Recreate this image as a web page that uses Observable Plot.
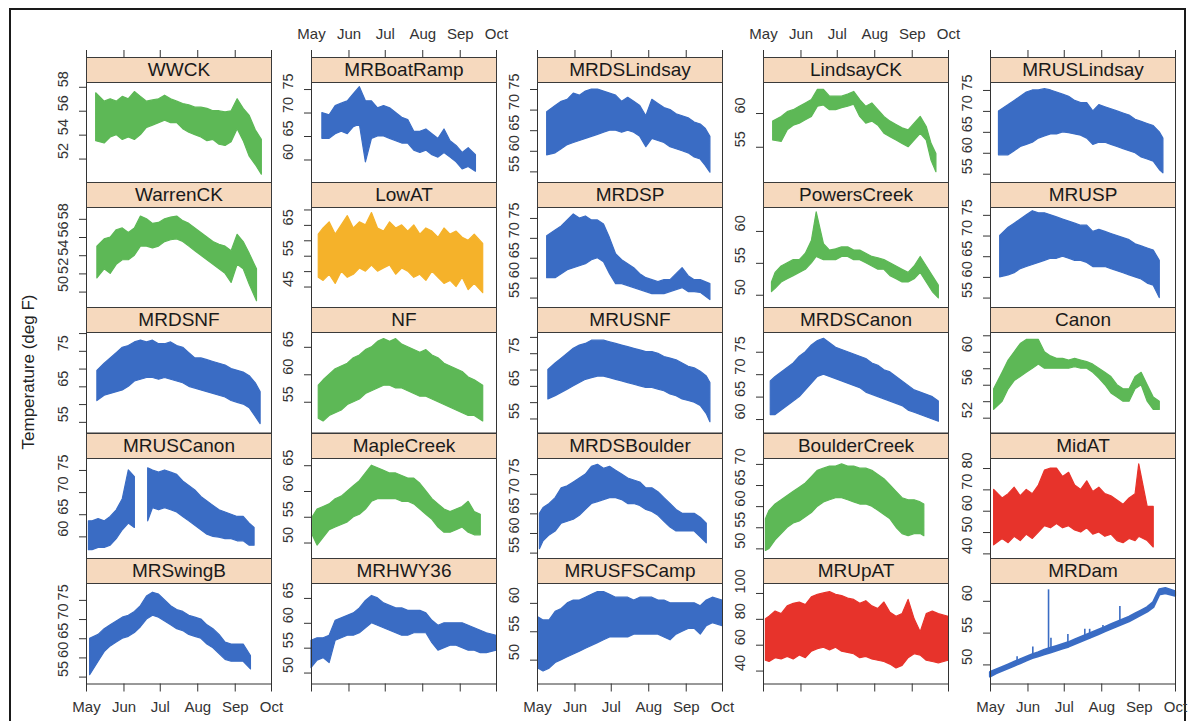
<!DOCTYPE html>
<html><head><meta charset="utf-8">
<script src="https://cdn.jsdelivr.net/npm/d3@7"></script>
<script src="https://cdn.jsdelivr.net/npm/@observablehq/plot@0.6"></script>
<style>
body{margin:0;background:#fff;font-family:"Liberation Sans",Arial,sans-serif;}
#fig{position:relative;width:1193px;height:721px;overflow:hidden;background:#fff;}
.strip{position:absolute;box-sizing:border-box;background:#f6d9be;border:1px solid #3a3a3a;text-align:center;font-size:19px;line-height:23px;color:#1a1a1a;white-space:nowrap;}
.cell{position:absolute;}
#border{position:absolute;left:9px;top:8px;width:1177px;height:740px;border:2px solid #1a1a1a;box-sizing:border-box;}
#ytitle{position:absolute;left:29px;top:372px;transform:translate(-50%,-50%) rotate(-90deg);font-size:17px;color:#222;white-space:nowrap;}
</style></head>
<body><div id="fig"><div id="border"></div><div id="ytitle">Temperature (deg F)</div></div>
<script>
// ---------- categories / styling data ----------
const sites = ["WWCK","MRBoatRamp","MRDSLindsay","LindsayCK","MRUSLindsay",
  "WarrenCK","LowAT","MRDSP","PowersCreek","MRUSP",
  "MRDSNF","NF","MRUSNF","MRDSCanon","Canon",
  "MRUSCanon","MapleCreek","MRDSBoulder","BoulderCreek","MidAT",
  "MRSwingB","MRHWY36","MRUSFSCamp","MRUpAT","MRDam"];
const G = "#5db856", B = "#3a6cc4", O = "#f5b22a", R = "#e7332b";
const siteColors = [G,B,B,G,B, G,O,B,G,B, B,G,B,B,G, B,G,B,G,R, B,B,B,R,B];
const yDomains = [[50,58.4],[55.1,76.5],[52.3,76.7],[49.7,64.6],[52.9,76.9],
  [48.25,59.3],[38.2,70.8],[52.5,77.75],[48,63.75],[52.6,76.9],
  [52,80.3],[49.4,67.7],[50.7,81.5],[57,79.4],[50.2,62.4],
  [55,77.7],[46.9,66.4],[53.5,79.1],[47.6,71.4],[37.6,84.7],
  [53.2,79.4],[47.8,68],[45.8,63.5],[30,107.7],[47,62.8]];
const yTickValues = [[52,54,56,58],[60,65,70,75],[55,60,65,70,75],[55,60],[55,60,65,70,75],
  [50,52,54,56,58],[45,50,55,60,65,70],[55,60,65,70,75],[50,55,60],[55,60,65,70,75],
  [55,60,65,70,75,80],[55,60,65],[55,60,65,70,75,80],[60,65,70,75],[52,54,56,58,60,62],
  [60,65,70,75],[50,55,60,65],[55,60,65,70,75],[50,55,60,65,70],[40,50,60,70,80],
  [55,60,65,70,75],[50,55,60,65],[50,55,60],[40,60,80,100],[50,55,60]];
const yTickLabels = [[52,54,56,58],[60,65,70,75],[55,60,65,70,75],[55,60],[55,60,65,70,75],
  [50,52,54,56,58],[45,55,65],[55,60,65,70,75],[50,55,60],[55,60,65,70,75],
  [55,65,75],[55,60,65],[55,65,75],[60,65,70,75],[52,56,60],
  [60,65,70,75],[50,55,60,65],[55,60,65,70,75],[50,55,60,65,70],[40,50,60,70,80],
  [55,60,65,70,75],[50,55,60,65],[50,55,60],[40,60,80,100],[50,55,60]];
const monthTicks = ["2012-05-01","2012-06-01","2012-07-01","2012-08-01","2012-09-01","2012-10-01"];
const monthLabels = ["May","Jun","Jul","Aug","Sep","Oct"];
const xDomain = ["2012-05-01","2012-10-01"];

// ---------- series: [day since May 1, daily low, daily high] ----------
const WWCK = [[8,53.5,57.5],[15,53.3,56.8],[20,53.8,57.0],[25,54.0,56.8],[30,53.6,57.2],[35,53.8,57.0],[40,53.6,57.6],[45,54.0,57.2],[50,54.6,56.8],[55,54.8,56.9],[60,55.0,57.0],[65,55.2,57.3],[70,55.0,57.0],[75,55.0,56.8],[80,54.5,56.6],[85,54.2,56.5],[90,54.0,56.3],[95,53.8,56.3],[100,53.5,56.2],[105,53.6,56.0],[110,53.2,56.0],[115,53.1,55.9],[120,53.4,56.0],[125,54.5,57.0],[130,53.5,56.2],[135,52.2,55.6],[140,51.5,54.4],[145,50.7,53.6]];
const MRBoatRamp = [[9,64.5,70.0],[15,64.5,69.5],[20,65.5,71.5],[25,66.0,72.0],[30,65.5,72.5],[35,67.0,74.0],[40,67.5,75.5],[45,59.5,72.5],[50,64.5,72.5],[55,65.0,71.0],[60,65.0,71.5],[65,64.5,71.0],[70,64.0,70.0],[75,63.5,69.0],[80,63.5,68.5],[85,62.0,66.0],[90,61.5,66.0],[95,62.0,66.5],[100,61.0,65.5],[105,60.5,64.5],[110,61.5,66.5],[115,60.5,64.0],[120,59.5,63.0],[125,58.0,61.5],[130,58.5,62.5],[136,57.5,61.0]];
const MRDSLindsay = [[8,59.0,69.5],[15,59.5,71.0],[20,60.5,72.0],[25,61.5,72.5],[30,62.0,74.0],[35,62.5,73.5],[40,63.0,74.5],[45,63.5,75.0],[50,64.0,75.0],[55,64.5,74.5],[60,65.0,74.0],[65,65.0,73.5],[70,64.5,72.0],[75,65.0,73.0],[80,64.5,72.0],[85,63.5,71.0],[90,61.0,68.5],[95,63.0,72.5],[100,62.5,71.5],[105,62.0,70.5],[110,61.0,70.0],[115,60.5,69.0],[120,60.0,68.5],[125,59.5,68.0],[130,58.5,67.0],[135,58.0,66.5],[139,56.5,65.5],[143,54.8,63.5]];
const LindsayCK = [[8,56.0,58.8],[15,55.8,59.5],[20,57.5,60.2],[25,58.2,60.5],[30,58.5,61.0],[35,59.0,61.5],[40,59.5,62.0],[45,61.0,63.5],[50,61.2,63.5],[55,60.5,62.5],[60,60.5,62.5],[65,60.8,62.5],[70,61.0,62.8],[75,61.3,63.2],[80,59.5,62.0],[85,58.5,61.0],[90,58.8,61.5],[95,58.2,60.5],[100,57.0,59.5],[105,56.5,58.8],[110,56.0,58.3],[115,55.5,57.8],[120,55.0,57.5],[125,56.0,58.5],[130,57.0,59.5],[135,56.0,58.0],[139,53.0,55.5],[143,51.3,54.0]];
const MRUSLindsay = [[7,59.5,70.0],[15,59.5,71.5],[20,60.5,72.5],[25,61.5,73.5],[30,62.0,74.5],[35,62.5,75.0],[40,63.5,75.0],[45,64.0,75.3],[50,64.5,75.0],[55,64.5,74.5],[60,65.0,74.0],[65,64.8,73.5],[70,64.5,72.5],[75,64.2,72.0],[80,63.5,72.0],[85,62.0,70.0],[90,62.5,71.5],[95,62.5,71.0],[100,62.0,70.5],[105,61.5,70.0],[110,61.0,69.5],[115,60.5,69.0],[120,60.0,68.0],[125,59.0,67.5],[130,58.5,67.0],[135,58.0,66.5],[140,56.0,65.0],[143,55.2,63.5]];
const WarrenCK = [[9,51.5,55.0],[15,52.5,55.8],[20,52.0,56.0],[25,53.0,56.8],[30,53.5,57.0],[35,53.5,56.5],[40,54.0,57.0],[45,55.0,58.3],[50,55.0,58.0],[55,54.8,57.5],[60,55.0,57.6],[65,55.5,58.0],[70,55.7,58.2],[75,55.8,58.3],[80,55.5,57.8],[85,55.0,57.5],[90,54.5,57.0],[95,54.0,56.5],[100,53.5,56.0],[105,53.0,55.5],[110,52.5,55.2],[115,52.0,55.0],[120,51.0,54.5],[125,53.0,56.3],[130,52.5,55.5],[135,50.8,54.2],[141,49.0,52.5]];
const LowAT = [[6,48,62],[10,47,64],[15,49,66],[20,46,62],[25,50,65],[30,48,68],[35,49,64],[40,51,66],[45,50,65],[50,52,69],[55,50,64],[60,51,63],[65,52,66],[70,49,64],[75,51,65],[80,50,63],[85,48,65],[90,49,62],[95,47,64],[100,50,63],[105,48,61],[110,46,64],[115,47,62],[120,45,63],[125,48,61],[130,44,60],[135,46,62],[142,43,59]];
const MRDSP = [[8,60.0,70.5],[15,60.0,72.0],[20,61.0,73.0],[25,62.0,74.5],[30,62.5,76.0],[35,63.0,75.0],[40,63.5,75.5],[45,64.5,74.5],[50,65.0,74.5],[55,64.0,73.5],[60,61.0,70.0],[65,58.5,66.0],[70,58.5,64.5],[75,58.0,63.5],[80,57.5,62.5],[85,57.0,61.0],[90,56.5,60.0],[95,56.0,59.5],[100,56.0,59.0],[105,56.0,59.5],[110,56.5,59.5],[115,57.0,61.0],[120,57.5,62.5],[125,56.5,60.5],[130,56.5,59.5],[135,56.3,59.5],[143,54.5,58.5]];
const PowersCreek = [[7,50.5,52.0],[10,51.0,53.5],[15,52.0,54.5],[20,52.5,55.0],[25,53.0,55.5],[30,53.5,55.5],[35,54.0,56.5],[40,55.0,58.5],[44,56.0,63.0],[50,55.5,58.0],[55,55.5,57.0],[60,55.5,57.2],[65,56.0,57.5],[70,56.0,57.5],[75,55.5,57.0],[80,55.5,57.0],[85,55.0,56.5],[90,54.5,56.0],[95,54.0,55.8],[100,54.0,55.5],[105,53.0,55.0],[110,52.5,54.5],[115,52.0,54.0],[120,52.0,53.5],[125,52.5,54.5],[130,53.5,56.0],[135,52.0,54.5],[140,50.5,53.0],[145,49.5,51.5]];
const MRUSP = [[8,60.0,70.0],[15,60.5,72.0],[20,61.0,73.0],[25,62.0,74.0],[30,62.5,75.0],[35,63.0,76.0],[40,63.5,75.5],[45,64.0,75.5],[50,64.5,75.0],[55,64.5,74.5],[60,65.0,74.0],[65,64.5,73.5],[70,64.0,73.0],[75,64.0,72.5],[80,63.5,72.5],[85,62.5,71.0],[90,62.5,71.5],[95,62.5,71.0],[100,62.0,70.5],[105,61.5,70.0],[110,61.0,69.5],[115,60.5,69.0],[120,60.0,68.0],[125,59.5,67.5],[130,58.5,67.0],[135,58.0,66.5],[140,55.0,64.0]];
const MRDSNF = [[9,61.0,69.5],[15,62.5,71.5],[20,63.0,73.0],[25,63.5,74.5],[30,64.0,76.0],[35,65.0,76.5],[40,66.5,77.5],[45,67.0,78.0],[50,67.5,77.5],[55,67.5,78.0],[60,67.0,77.0],[65,67.5,77.0],[70,67.0,77.5],[75,66.5,76.5],[80,66.0,76.0],[85,65.0,74.5],[90,64.5,73.0],[95,64.0,73.0],[100,63.5,72.5],[105,63.0,72.0],[110,62.5,71.5],[115,62.0,71.0],[120,61.0,70.0],[125,60.5,69.5],[130,60.0,69.0],[135,59.0,68.0],[140,56.5,66.0],[144,54.5,63.5]];
const NF = [[6,52.0,58.0],[10,51.5,59.0],[15,52.5,60.0],[20,53.0,61.0],[25,53.5,61.5],[30,54.5,62.0],[35,55.0,63.0],[40,55.5,63.5],[45,56.5,64.5],[50,57.0,65.0],[55,57.5,66.0],[60,58.0,66.5],[65,58.0,66.0],[70,57.5,66.5],[75,57.5,65.5],[80,57.0,65.0],[85,56.5,64.5],[90,56.0,64.0],[95,56.0,64.5],[100,55.5,63.5],[105,55.0,63.0],[110,54.5,62.0],[115,54.0,61.5],[120,53.5,61.0],[125,53.0,60.5],[130,52.5,59.5],[135,52.5,59.0],[142,51.5,58.0]];
const MRUSNF = [[9,61.0,70.0],[15,62.0,72.0],[20,63.0,73.5],[25,64.0,75.0],[30,65.0,76.5],[35,66.0,77.5],[40,67.0,78.0],[45,67.5,79.0],[50,68.0,79.0],[55,68.0,79.0],[60,67.5,78.5],[65,67.0,78.0],[70,66.5,77.5],[75,66.0,77.0],[80,65.5,76.5],[85,65.0,76.0],[90,64.5,75.5],[95,64.5,75.5],[100,64.0,75.0],[105,63.5,74.0],[110,62.5,73.5],[115,62.0,73.0],[120,61.0,72.0],[125,60.5,71.0],[130,60.0,70.5],[135,59.0,69.5],[140,56.5,68.0],[143,54.0,66.0]];
const MRDSCanon = [[6,61.0,68.5],[10,61.0,69.5],[15,62.0,70.5],[20,63.0,71.5],[25,64.0,72.5],[30,65.0,74.0],[35,66.5,75.0],[40,68.0,76.5],[45,69.5,77.5],[50,70.0,78.0],[55,69.5,77.0],[60,69.0,76.0],[65,68.5,75.5],[70,68.0,75.0],[75,67.5,74.5],[80,67.0,74.0],[85,66.0,73.5],[90,65.5,72.5],[95,65.0,72.0],[100,64.5,71.0],[105,64.0,70.5],[110,63.5,69.5],[115,63.0,68.5],[120,62.0,67.5],[125,61.5,66.5],[130,61.0,66.0],[135,60.5,65.5],[140,60.0,65.0],[145,59.5,64.0]];
const Canon = [[3,53.0,55.5],[10,54.0,57.5],[15,55.5,59.0],[20,56.5,60.0],[25,57.0,61.0],[30,57.5,61.5],[35,58.0,61.5],[40,58.5,61.5],[45,58.0,60.0],[50,58.0,59.5],[55,58.0,59.2],[60,58.0,59.2],[65,58.0,59.0],[70,58.2,59.2],[75,58.0,59.0],[80,58.0,58.8],[85,57.5,58.5],[90,56.8,58.0],[95,56.0,57.5],[100,55.0,57.0],[105,54.5,56.0],[110,54.0,55.5],[115,54.0,55.5],[120,55.5,57.0],[125,56.0,57.5],[130,54.0,56.0],[135,53.0,54.5],[140,53.0,54.0]];
const MRUSCanon = [[2,57.0,63.5],[5,57.0,63.5],[10,57.5,64.0],[15,57.5,63.5],[20,58.0,64.5],[25,59.5,66.0],[30,61.5,68.5],[35,63.0,75.0],[40,62.0,73.5],[45,null,null],[51,63.5,75.5],[55,66.5,75.0],[60,66.0,74.5],[65,66.5,75.0],[70,66.0,74.5],[75,65.5,74.0],[80,64.5,72.5],[85,63.5,71.5],[90,62.5,70.5],[95,61.5,69.0],[100,60.5,68.0],[105,60.0,67.0],[110,59.8,66.0],[115,59.5,65.5],[120,59.5,65.0],[125,59.0,64.5],[130,59.0,64.5],[135,58.0,63.0],[139,58.0,62.0]];
const MapleCreek = [[1,51.5,55.0],[5,49.5,56.5],[10,51.0,57.0],[15,52.5,57.5],[20,53.0,58.5],[25,53.5,59.0],[30,54.0,60.0],[35,55.0,61.0],[40,55.5,62.0],[45,56.5,63.5],[50,58.0,65.0],[55,58.5,64.5],[60,58.5,64.0],[65,58.5,63.5],[70,58.5,63.5],[75,58.0,63.0],[80,58.0,62.5],[85,57.5,62.5],[90,56.5,61.5],[95,55.5,60.0],[100,54.5,58.5],[105,53.0,57.5],[110,52.0,56.5],[115,52.0,56.0],[120,52.5,56.5],[125,53.0,57.0],[130,52.0,58.0],[135,51.5,56.0],[140,51.5,55.5]];
const MRDSBoulder = [[2,56.0,65.0],[5,58.0,66.5],[10,59.5,67.5],[15,60.5,69.0],[20,62.5,71.5],[25,63.0,72.0],[30,63.5,73.0],[35,64.5,74.0],[40,66.0,75.0],[45,67.5,77.0],[50,68.0,77.5],[55,68.5,76.5],[60,69.0,77.0],[65,69.0,76.0],[70,68.5,75.0],[75,67.5,74.0],[80,67.5,73.5],[85,67.0,73.0],[90,66.0,71.5],[95,65.5,71.5],[100,64.5,70.5],[105,63.0,69.0],[110,61.5,67.5],[115,60.5,66.0],[120,60.5,65.0],[125,60.5,65.0],[130,60.5,65.0],[135,59.0,64.0],[140,57.5,62.5]];
const BoulderCreek = [[2,49.5,57.0],[5,50.0,59.0],[10,52.0,60.5],[15,53.5,61.5],[20,55.0,62.5],[25,56.0,63.5],[30,56.5,64.5],[35,57.5,65.5],[40,58.5,67.0],[45,60.0,68.5],[50,61.0,69.0],[55,61.5,69.5],[60,62.0,69.5],[65,62.0,70.0],[70,61.5,69.5],[75,61.0,69.5],[80,60.5,69.0],[85,60.5,69.0],[90,60.0,68.5],[95,59.0,67.5],[100,58.0,66.5],[105,57.0,65.0],[110,55.0,63.5],[115,53.5,62.0],[120,53.0,61.5],[125,53.5,61.5],[130,53.5,61.0],[133,53.0,60.5]];
const MidAT = [[3,44,70],[10,47,66],[15,45,68],[20,48,71],[25,46,67],[30,49,70],[35,47,68],[40,50,72],[45,53,79],[50,52,80],[55,54,80],[60,52,76],[65,53,78],[70,51,72],[75,50,70],[80,52,74],[85,49,69],[90,50,71],[95,48,68],[100,49,67],[105,46,65],[110,45,63],[115,47,66],[120,46,68],[123,48,82],[130,46,62],[135,43,62]];
const MRSwingB = [[3,55.5,65.0],[10,59.0,66.0],[15,61.5,67.5],[20,63.0,68.5],[25,64.0,69.5],[30,65.0,70.5],[35,65.5,71.0],[40,66.5,72.0],[45,68.0,73.5],[50,70.0,76.0],[55,71.0,77.0],[60,70.5,76.5],[65,69.5,75.0],[70,68.5,73.5],[75,67.5,72.5],[80,67.0,72.0],[85,66.0,71.0],[90,65.5,70.5],[95,65.0,70.0],[100,63.5,68.5],[105,62.5,67.5],[110,61.0,66.0],[115,59.5,64.0],[120,59.0,63.5],[125,59.0,63.5],[130,59.0,63.5],[136,57.0,60.5]];
const MRHWY36 = [[0,51.0,56.5],[5,52.5,57.0],[10,53.0,57.0],[15,52.0,57.5],[20,56.5,60.5],[25,57.0,61.0],[30,57.5,61.5],[35,57.5,62.0],[40,58.0,63.0],[45,59.0,64.5],[50,60.0,65.5],[55,59.5,65.0],[60,59.0,64.0],[65,58.5,63.5],[70,58.0,63.0],[75,57.5,63.0],[80,57.5,62.5],[85,58.0,62.5],[90,58.0,62.5],[95,58.0,62.0],[100,56.0,60.5],[105,54.5,59.5],[110,55.0,60.0],[115,55.5,60.0],[120,55.5,60.0],[125,55.0,60.0],[130,54.5,59.5],[135,54.5,59.0],[140,54.0,58.5],[145,54.0,58.0],[153,54.5,57.5]];
const MRUSFSCamp = [[1,48.5,57.5],[5,48.0,57.0],[10,48.5,57.0],[15,49.5,58.5],[20,50.0,59.0],[25,50.5,60.0],[30,51.0,60.5],[35,51.5,60.5],[40,52.0,61.0],[45,52.5,61.5],[50,53.0,62.0],[55,53.5,62.0],[60,54.0,61.5],[65,54.0,61.0],[70,54.0,61.0],[75,54.0,61.0],[80,54.5,60.5],[85,54.5,61.0],[90,54.5,61.0],[95,54.5,61.0],[100,54.5,60.5],[105,54.0,60.5],[110,53.5,60.0],[115,54.5,60.0],[120,55.0,60.0],[125,55.5,60.0],[130,55.5,60.0],[135,54.5,59.5],[140,56.0,60.5],[145,56.5,61.0],[153,56.0,60.5]];
const MRUpAT = [[2,48,80],[5,47,82],[10,50,86],[15,49,84],[20,51,90],[25,49,92],[30,52,93],[35,50,91],[40,55,97],[45,57,99],[50,58,100],[55,56,101],[60,58,99],[65,55,98],[70,54,96],[75,53,95],[80,50,92],[85,51,94],[90,49,90],[95,48,88],[100,47,93],[105,45,85],[110,42,82],[115,44,84],[120,50,95],[125,53,80],[130,52,70],[135,48,84],[140,47,86],[145,46,84],[153,48,82]];
const MRDam = [[0,48.1,48.8],[5,48.6,49.2],[10,49.0,49.6],[15,49.4,50.0],[20,49.8,50.4],[25,50.2,50.8],[30,50.6,51.2],[35,51.0,51.6],[40,51.3,51.9],[45,51.6,52.3],[50,51.9,52.6],[55,52.2,52.9],[60,52.5,53.2],[65,52.8,53.5],[70,53.2,53.9],[75,53.6,54.3],[80,54.0,54.7],[85,54.4,55.1],[90,54.8,55.5],[95,55.2,55.9],[100,55.6,56.3],[105,56.0,56.7],[110,56.4,57.1],[115,56.8,57.5],[120,57.3,58.0],[125,57.8,58.5],[130,58.3,59.0],[135,59.0,59.8],[140,61.0,61.8],[145,61.2,62.0],[153,60.8,61.5]];
// isolated spikes in MRDam: [day, base, peak]
const MRDamSpikes = [[22,50.2,51.3],[35,51.0,52.8],[48,51.8,61.8],[50,52.0,54.2],[64,52.8,54.8],[78,53.9,55.6],[82,54.1,55.6],[93,55.0,56.2],[107,56.7,59.2]];

const seriesData = [WWCK,MRBoatRamp,MRDSLindsay,LindsayCK,MRUSLindsay,
  WarrenCK,LowAT,MRDSP,PowersCreek,MRUSP,
  MRDSNF,NF,MRUSNF,MRDSCanon,Canon,
  MRUSCanon,MapleCreek,MRDSBoulder,BoulderCreek,MidAT,
  MRSwingB,MRHWY36,MRUSFSCamp,MRUpAT,MRDam];

// ---------- layout ----------
const fig = document.getElementById("fig");
const colLeft = [86, 311, 537, 763, 990];
const panelW = 185, stripH = 25, plotH = 100.5, rowPitch = 125.2, stripTop0 = 57;
const day0 = Date.parse(xDomain[0]);
const toDate = d => new Date(day0 + d * 864e5);
const tickDates = monthTicks.map(s => new Date(s));
const monthFmt = d => monthLabels[tickDates.findIndex(t => +t === +d)];
const blank = () => "";
const ink = "#333";

sites.forEach((name, i) => {
  const col = i % 5, row = Math.floor(i / 5);
  const stripTop = stripTop0 + row * rowPitch;
  const plotTop = stripTop + stripH;
  const mL = 40, mR = 1;
  const mT = row === 0 ? 70 : 1;
  const mB = row === 4 ? 40 : 1;
  const color = siteColors[i];
  const data = seriesData[i];
  const marks = [
    Plot.areaY(data, {x: d => toDate(d[0]), y1: d => d[1], y2: d => d[2], fill: color, stroke: color, strokeWidth: name === "MRDam" ? 2.2 : 1.2, curve: "linear"})
  ];
  if (name === "MRDam") {
    marks.push(Plot.ruleX(MRDamSpikes, {x: d => toDate(d[0]), y1: d => d[1], y2: d => d[2], stroke: color, strokeWidth: 1.6}));
  }
  marks.push(
    Plot.frame({stroke: ink, strokeWidth: 1}),
    Plot.axisY({ticks: yTickValues[i], tickSize: 7, tickFormat: blank, label: null, stroke: ink}),
    Plot.text(yTickLabels[i], {y: d => d, text: d => String(d), frameAnchor: "left", dx: -23, rotate: -90, fontSize: 14.5, fill: ink})
  );
  if (row === 0) {
    marks.push(Plot.axisX({anchor: "top", ticks: tickDates, tickSize: 8, tickPadding: 11, dy: -stripH,
      tickFormat: col % 2 === 1 ? monthFmt : blank, label: null, fontSize: 15, stroke: ink, fill: ink}));
  }
  if (row === 4) {
    marks.push(Plot.axisX({anchor: "bottom", ticks: tickDates, tickSize: 8, tickPadding: 9,
      tickFormat: col % 2 === 0 ? monthFmt : blank, label: null, fontSize: 15, stroke: ink, fill: ink}));
  }
  const chart = Plot.plot({
    width: mL + panelW + mR,
    height: mT + plotH + mB,
    marginLeft: mL, marginRight: mR, marginTop: mT, marginBottom: mB,
    x: {type: "utc", domain: xDomain.map(s => new Date(s)), axis: null},
    y: {domain: yDomains[i], axis: null},
    style: {background: "transparent", overflow: "visible", fontFamily: "'Liberation Sans', Arial, sans-serif", fontSize: "14px", color: ink},
    marks
  });
  const cell = document.createElement("div");
  cell.className = "cell";
  cell.style.left = (colLeft[col] - mL) + "px";
  cell.style.top = (plotTop - mT) + "px";
  cell.style.width = (mL + panelW + mR) + "px";
  cell.appendChild(chart);
  fig.appendChild(cell);

  const strip = document.createElement("div");
  strip.className = "strip";
  strip.style.left = colLeft[col] + "px";
  strip.style.top = stripTop + "px";
  strip.style.width = (panelW + 1) + "px";
  strip.style.height = (stripH + 1) + "px";
  strip.textContent = name;
  fig.appendChild(strip);
});
</script>
</body></html>
